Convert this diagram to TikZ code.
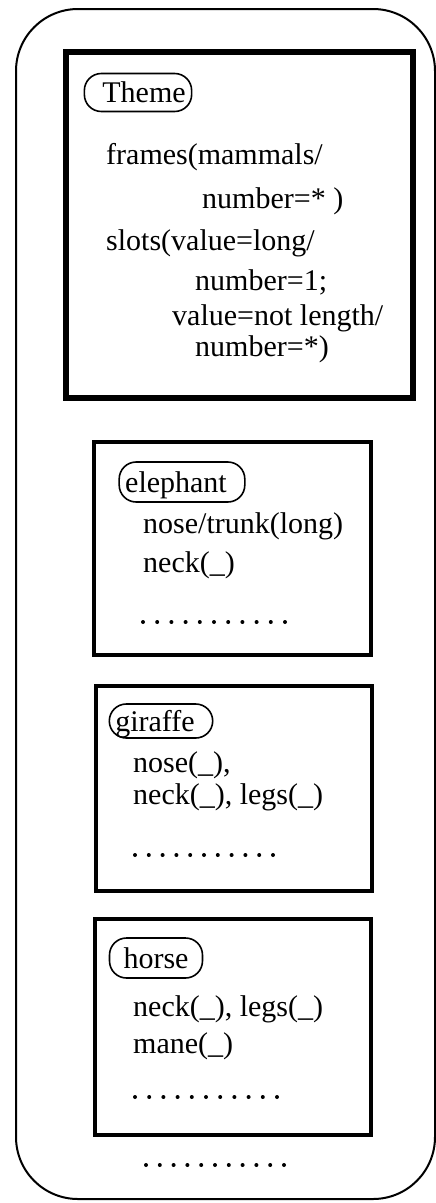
\documentclass[tikz,border=0pt]{standalone}
\usepackage{fontspec}
\setmainfont{Liberation Serif}
\begin{document}
\begin{tikzpicture}[x=1pt,y=-1pt,
  txt/.style={anchor=base west, inner sep=0pt, font=\fontsize{30}{36}\selectfont},
  pill/.style={draw, line width=1.6pt, rounded corners=17pt, inner xsep=6pt,
    inner ysep=0pt, text height=20pt, text depth=0pt, minimum height=38pt,
    font=\fontsize{30}{36}\selectfont},
  framebox/.style={draw, line width=4.5pt, inner sep=0pt},
  outline/.style={line width=2pt, rounded corners=62pt}]
\useasboundingbox (0,0) rectangle (436,1203);

% outer frame set
\draw[outline] (16,9) rectangle (435,1199);

% theme frame
\node[framebox, line width=6pt, minimum width=347pt, minimum height=346pt] (themebox) at (239.5,225) {};
\node[pill] (themetag) at (138,92.5) {\hspace*{12pt}Theme};
\node[txt] (t1) at (106,164) {frames(mammals/};
\node[txt] (t2) at (202,208) {number=* )};
\node[txt] (t3) at (106,250) {slots(value=long/};
\node[txt] (t4) at (195,290) {number=1;};
\node[txt] (t5) at (172,325) {value=not length/};
\node[txt] (t6) at (195,356) {number=*)};

% elephant frame
\node[framebox, minimum width=277pt, minimum height=213pt] (elebox) at (232.5,548.5) {};
\node[pill, minimum height=40pt] (eletag) at (182,482) {elephant\hspace*{12pt}};
\node[txt] (e1) at (143,533) {nose/trunk(long)};
\node[txt] (e2) at (143,572) {neck(\_)};
\foreach \i in {0,...,10} \fill (143+\i*14.2,622) circle (2);

% giraffe frame
\node[framebox, minimum width=276pt, minimum height=205pt] (girbox) at (234,788.5) {};
\node[pill, minimum height=34pt] (girtag) at (161,721) {giraffe\hspace*{12pt}};
\node[txt] (g1) at (133,772) {nose(\_),};
\node[txt] (g2) at (133,804) {neck(\_), legs(\_)};
\foreach \i in {0,...,10} \fill (135+\i*13.8,855) circle (2);

% horse frame
\node[framebox, minimum width=276pt, minimum height=216pt] (horbox) at (233,1027) {};
\node[pill, minimum height=40pt] (hortag) at (156,958) {\hspace*{8pt}horse\hspace*{8pt}};
\node[txt] (h1) at (133,1016) {neck(\_), legs(\_)};
\node[txt] (h2) at (133,1053) {mane(\_)};
\foreach \i in {0,...,10} \fill (135+\i*14.2,1097) circle (2);

% further frames
\foreach \i in {0,...,10} \fill (146+\i*13.8,1165) circle (2);
\end{tikzpicture}
\end{document}
